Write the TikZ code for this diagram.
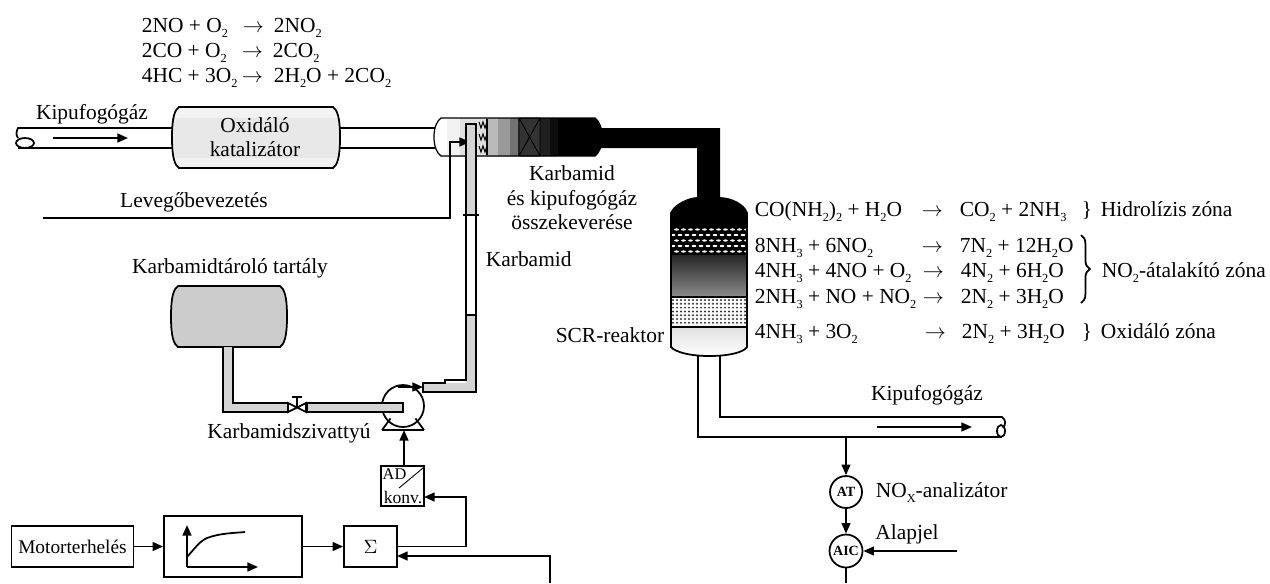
\documentclass[tikz,border=0pt]{standalone}
\usepackage{fontspec}
\setmainfont{Liberation Serif}
\usetikzlibrary{arrows.meta,decorations.pathreplacing}

\newcommand{\al}[1]{\raisebox{-0.6ex}{\fontsize{7}{7}\selectfont #1}}
\newcommand{\ny}{$\rightarrow$}
\newcommand{\hordo}[4]{(#1+7,#2) -- (#3-7,#2) .. controls (#3-3,#2+3) and (#3,#2+9) .. ({#3},{(#2+#4)/2})
  .. controls (#3,#4-9) and (#3-3,#4-3) .. (#3-7,#4) -- (#1+7,#4) .. controls (#1+3,#4-3) and (#1,#4-9) .. ({#1},{(#2+#4)/2})
  .. controls (#1,#2+9) and (#1+3,#2+3) .. (#1+7,#2) -- cycle}

\tikzset{
  szoveg/.style={inner sep=0pt,font=\fontsize{12.2}{14}\selectfont},
  keplet/.style={szoveg,anchor=base west},
  doboz/.style={draw,inner sep=0pt,font=\fontsize{11}{13}\selectfont},
  muszer/.style={draw,circle,inner sep=0pt,font=\fontsize{8}{8}\selectfont\bfseries},
  nyil/.style={-{Stealth[inset=0pt,length=6pt,width=5pt]}},
  cso/.style={fill=black!17}
}

\begin{document}
\begin{tikzpicture}[x=0.02cm,y=-0.02cm,line width=1pt]
  \useasboundingbox (0,0) rectangle (1270,583);

  % Kepletek a katalizator felett
  \node[keplet] (no1) at (141,32) {2NO + O\al{2}};
  \node[keplet] (no2) at (242,32) {\ny};
  \node[keplet] (no3) at (273,32) {2NO\al{2}};
  \node[keplet] (co1) at (141,57) {2CO + O\al{2}};
  \node[keplet] (co2) at (241,57) {\ny};
  \node[keplet] (co3) at (272,57) {2CO\al{2}};
  \node[keplet] (hc1) at (141,82) {4HC + 3O\al{2}};
  \node[keplet] (hc2) at (241,82) {\ny};
  \node[keplet] (hc3) at (273,82) {2H\al{2}O + 2CO\al{2}};

  % Bemeno kipufogocso
  \draw (172,128) -- (18,128) .. controls (16,132) and (16,135) .. (18,138);
  \draw (172,148) -- (18,148);
  \draw (25,143) ellipse (9 and 5);
  \coordinate (be1) at (53,138);
  \coordinate (be2) at (128,138);
  \draw[nyil] (be1) -- (be2);
  \node[szoveg] (kipufogo1) at (92,114) {Kipufogógáz};

  % Oxidalo katalizator
  \fill[black!5] \hordo{172}{107}{340}{168};
  \fill[black!9] (173,118) rectangle (339,158);
  \draw \hordo{172}{107}{340}{168};
  \node[szoveg,align=center] (katalizator) at (255,137) {Oxidáló\\katalizátor};
  \draw (340,128) -- (435,128);
  \draw (340,148) -- (435,148);

  % Keverocso
  \begin{scope}
    \clip \hordo{434}{118}{602}{156};
    \fill[black] (434,117) rectangle (602,157);
    \foreach \x/\g/\w in {434/0/13,447/5/13,460/12/26,486/27/12,498/40/12,510/55/8,518/80/22,540/88/10,550/95/7}
      \fill[black!\g] (\x,117) rectangle +(\w+0.5,40);
  \end{scope}
  \draw[line width=0.7pt] \hordo{434}{118}{602}{156};
  \draw[line width=0.5pt] (519,118) rectangle (540,156) (519,118) -- (540,156) (540,118) -- (519,156);
  \draw[line width=0.6pt] (487,119) -- (487,155);
  \foreach \y in {122,134,146}
    \draw[line width=0.6pt] (479,\y) -- (481,\y+6) -- (483,\y) -- (485,\y+6) -- (487,\y);

  % Fekete cso a reaktorhoz
  \fill[black] (598,128) -- (720,128) -- (720,205) -- (697,205) -- (697,148) -- (598,148) -- cycle;

  % Levego
  \coordinate (levego1) at (43,218);
  \coordinate (levego2) at (470,142);
  \draw[nyil] (levego1) -- (450,218) |- (levego2);
  \node[szoveg] (levego) at (194,202) {Levegőbevezetés};

  % Karbamid cso
  \fill[cso] (466,125) rectangle (476,215);
  \fill[cso] (466,315) -- (476,315) -- (476,392) -- (423,392) -- (423,383) -- (466,383) -- cycle;
  \draw (423,392) -- (476,392) -- (476,124) -- (466,124) -- (466,380) -- (445,380) -- (445,383) -- (423,383) -- cycle;
  \draw (463,215) -- (479,215);
  \draw (466,315) -- (476,315);
  \node[szoveg,anchor=west] (karbamid) at (485,259) {Karbamid};
  \node[szoveg,align=center] (keveres) at (572,198) {Karbamid\\és kipufogógáz\\összekeverése};

  % Tartaly
  \draw[fill=black!20] \hordo{171}{286}{287}{347};
  \node[szoveg] (tartaly) at (230,268) {Karbamidtároló tartály};
  \fill[cso] (223,347) -- (233,347) -- (233,403) -- (288,403) -- (288,412) -- (223,412) -- cycle;
  \draw (223,347) -- (223,412) -- (288,412);
  \draw (233,347) -- (233,403) -- (288,403);

  % Szivattyu es szelep
  \draw (288,403) -- (306,412) -- (306,403) -- (288,412) -- cycle;
  \draw (297,407) -- (297,397) (292,397) -- (302,397);
  \node[draw,circle,inner sep=0pt,minimum size=0.84cm] (szivattyu) at (403,406) {};
  \draw[fill=black!17] (403,403) -- (307,403) -- (307,412) -- (403,412) -- cycle;
  \coordinate (szalp1) at (382,430);
  \coordinate (szalp2) at (424,430);
  \coordinate (kimenet) at (423,387);
  \draw (szalp1) -- (szalp2);
  \draw (szivattyu.south west) ++(3,-3) -- (szalp1);
  \draw (szivattyu.south east) ++(-3,-3) -- (szalp2);
  \draw[nyil] (398,387) -- (kimenet);
  \node[szoveg] (szivattyufelirat) at (289,433) {Karbamidszivattyú};

  % Reaktor
  \begin{scope}
    \clip (671,213) .. controls (675,204) and (690,198) .. (697,198) -- (720,198) .. controls (730,198) and (744,204) .. (747,213)
      -- (747,347) .. controls (744,352) and (730,356) .. (709,356) .. controls (690,356) and (675,352) .. (671,347) -- cycle;
    \fill[black] (671,198) rectangle (747,255);
    \foreach \y [count=\i] in {229.5,235,240.5,246,251.5}
      \foreach \x in {673,680,...,745}
        \fill[white] ({\x+mod(\i,2)*3.5},\y) ellipse (2.4 and 1.1);
    \shade[top color=black!85,bottom color=black!45] (671,255) rectangle (747,297);
    \foreach \y in {300,303.8,...,326}
      \foreach \x in {673,677,...,745}
        \fill[black!80] (\x,\y) circle (1.1);
    \shade[top color=black!12,bottom color=white] (671,327) rectangle (747,356);
  \end{scope}
  \draw (671,213) .. controls (675,204) and (690,198) .. (697,198) -- (720,198) .. controls (730,198) and (744,204) .. (747,213)
    -- (747,347) .. controls (744,352) and (730,356) .. (709,356) .. controls (690,356) and (675,352) .. (671,347) -- cycle;
  \draw (671,297) -- (747,297) (671,327) -- (747,327);
  \node[szoveg,anchor=east] (reaktor) at (665,335) {SCR-reaktor};

  % Kepletek a reaktor mellett
  \node[keplet] (a1) at (754,216) {CO(NH\al{2})\al{2} + H\al{2}O};
  \node[keplet] (a2) at (921,216) {\ny};
  \node[keplet] (a3) at (959,216) {CO\al{2} + 2NH\al{3}};
  \node[keplet] (a4) at (1081,216) {\}};
  \node[keplet] (a5) at (1100,216) {Hidrolízis zóna};
  \node[keplet] (b1) at (754,252) {8NH\al{3} + 6NO\al{2}};
  \node[keplet] (b2) at (921,252) {\ny};
  \node[keplet] (b3) at (959,252) {7N\al{2} + 12H\al{2}O};
  \node[keplet] (c1) at (754,277) {4NH\al{3} + 4NO + O\al{2}};
  \node[keplet] (c2) at (922,277) {\ny};
  \node[keplet] (c3) at (960,277) {4N\al{2} + 6H\al{2}O};
  \node[keplet] (d1) at (754,303) {2NH\al{3} + NO + NO\al{2}};
  \node[keplet] (d2) at (922,303) {\ny};
  \node[keplet] (d3) at (960,303) {2N\al{2} + 3H\al{2}O};
  \node[keplet] (e1) at (754,338) {4NH\al{3} + 3O\al{2}};
  \node[keplet] (e2) at (924,338) {\ny};
  \node[keplet] (e3) at (961,338) {2N\al{2} + 3H\al{2}O};
  \node[keplet] (e4) at (1081,338) {\}};
  \node[keplet] (e5) at (1100,338) {Oxidáló zóna};
  \draw[decorate,decoration={brace,amplitude=5pt}] (1081,235) -- (1081,303);
  \node[keplet] (atalakito) at (1101,277) {NO\al{2}-átalakító zóna};

  % Kimeno kipufogocso
  \draw (698,356) -- (698,437) -- (1002,437);
  \draw (720,356) -- (720,417) -- (1002,417) .. controls (1006,420) and (1006,424) .. (1003,428);
  \draw (1001,431) ellipse (4 and 6);
  \coordinate (ki1) at (877,427);
  \coordinate (ki2) at (972,427);
  \draw[nyil] (ki1) -- (ki2);
  \node[szoveg] (kipufogo2) at (927,395) {Kipufogógáz};

  % Muszerek
  \coordinate (mintavetel) at (846,437);
  \node[muszer,minimum size=0.64cm] (at) at (846,492) {AT};
  \node[muszer,minimum size=0.66cm] (aic) at (846,551) {AIC};
  \coordinate (alapjel) at (957,551);
  \coordinate (aicki) at (846,583);
  \draw[nyil] (mintavetel) -- (at);
  \draw[nyil] (at) -- (aic);
  \draw[nyil] (alapjel) -- (aic);
  \draw (aic) -- (aicki);
  \node[keplet] (analizator) at (875,497) {NO\al{X}-analizátor};
  \node[szoveg] (alapjelfelirat) at (907,534) {Alapjel};

  % Szabalyozo dobozok
  \node[doboz,minimum width=2.44cm,minimum height=0.82cm] (motor) at (72.5,546.5) {Motorterhelés};
  \node[doboz,minimum width=2.76cm,minimum height=1.22cm] (gorbe) at (233,546.5) {};
  \node[doboz,minimum width=1.06cm,minimum height=0.82cm] (szumma) at (370.5,546.5) {$\Sigma$};
  \node[draw,minimum width=0.86cm,minimum height=0.8cm,inner sep=0pt] (ad) at (402.5,486) {};
  \node[szoveg,font=\fontsize{9.3}{10}\selectfont] (adfelso) at (394.5,474) {AD};
  \node[szoveg,font=\fontsize{10}{10}\selectfont] (konv) at (403,498) {konv.};
  \draw[line width=0.5pt] (399,488) -- (423,468);

  \coordinate (tengely) at (187,567);
  \coordinate (tengelyx) at (258,567);
  \coordinate (tengelyy) at (187,525);
  \draw[nyil] (tengely) -- (tengelyx);
  \draw[nyil] (tengely) -- (tengelyy);
  \draw (187,557) .. controls (195,548) and (200,541) .. (207,538) .. controls (220,533) and (235,533) .. (245,532);

  \coordinate (szummabe) at (397,556);
  \coordinate (szummaki) at (397,546.5);
  \coordinate (adbe) at (424,497);
  \coordinate (visszaut) at (550,583);
  \draw[nyil] (motor) -- (gorbe);
  \draw[nyil] (gorbe) -- (szumma);
  \draw[nyil] (szummaki) -- (466,546.5) |- (adbe);
  \draw[nyil] (visszaut) |- (szummabe);
  \coordinate (adki) at (404,466);
  \coordinate (pumpa) at (404,430);
  \draw[nyil] (adki) -- (pumpa);
\end{tikzpicture}
\end{document}
